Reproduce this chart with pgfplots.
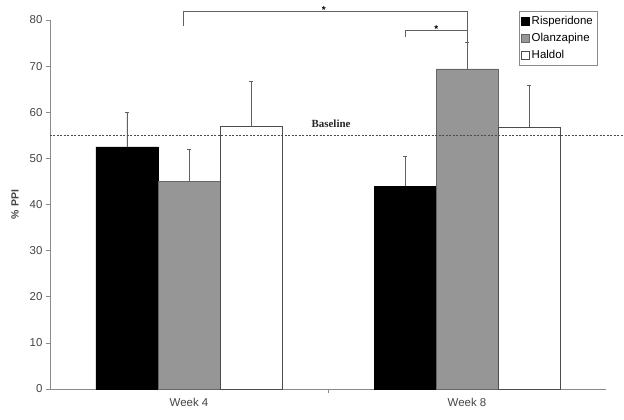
\documentclass[border=0pt]{standalone}
\usepackage{fontspec}
\setmainfont{Liberation Sans}
\newfontfamily\serifbold{Liberation Serif}
\usepackage{pgfplots}
\pgfplotsset{compat=1.18}
\definecolor{olz}{HTML}{969696}
\definecolor{axgray}{HTML}{8A8A8A}
\definecolor{txt}{HTML}{444444}

\begin{document}
\begin{tikzpicture}
\begin{axis}[
    scale only axis,
    width=556bp, height=369bp,
    xmin=-0.5, xmax=1.5,
    ymin=0, ymax=80,
    clip=false,
    axis x line=bottom, axis y line=left,
    axis line style={-, axgray, line width=0.6pt},
    xtick={0,1}, xticklabels={Week 4, Week 8},
    xtick style={draw=none},
    ytick={0,10,...,80},
    ytick style={axgray, line width=0.6pt},
    tick align=outside, major tick length=4bp,
    ticklabel style={font=\fontsize{11.5}{12}\selectfont, text=txt},
    /pgf/number format/assume math mode=true,
    xticklabel style={yshift=-2bp},
    ylabel={\textbf{\% PPI}},
    ylabel style={font=\fontsize{10.5}{11}\selectfont, text=txt,
        at={(axis description cs:-0.063,0.5)}, anchor=center},
    ybar=0pt, bar width=62bp,
    legend style={at={(axis cs:1.187,82)}, anchor=north west,
        font=\fontsize{11.5}{13}\selectfont, draw=axgray, line width=0.5pt,
        inner xsep=2bp, inner ysep=3bp, row sep=3.5bp},
    legend cell align=left,
    legend image code/.code={\draw[#1, line width=0.5pt] (0bp,-4bp) rectangle (8bp,4bp);},
    error bars/y dir=plus, error bars/y explicit,
    error bars/error bar style={axgray!70!black, line width=0.7pt},
    error bars/error mark options={rotate=90, mark size=2bp, axgray!70!black, line width=0.7pt},
]
\addplot[fill=black, draw=black, bar shift=-62bp] coordinates {
    (0, 52.5) +- (0, 7.5)
    (1, 44.0) +- (0, 6.4)
};
\addlegendentry{Risperidone}
\addplot[fill=olz, draw=black!60, bar shift=0bp] coordinates {
    (0, 45.0) +- (0, 6.9)
    (1, 69.4) +- (0, 5.8)
};
\addlegendentry{Olanzapine}
\addplot[fill=white, draw=black!70, bar shift=62bp] coordinates {
    (0, 56.9) +- (0, 9.9)
    (1, 56.7) +- (0, 9.1)
};
\addlegendentry{Haldol}

% baseline
\draw[dash pattern=on 2bp off 1.5bp, black!70, line width=0.6pt]
    (axis cs:-0.5,55) -- (axis cs:1.56,55);
\node[font=\fontsize{11}{11}\serifbold\bfseries, text=black!85] at (axis cs:0.511,57.4) {Baseline};

% significance brackets
\draw[axgray!70!black, line width=0.6pt]
    (axis cs:-0.02,78.8) -- (axis cs:-0.02,81.8) -- (axis cs:1,81.8) -- (axis cs:1,75);
\draw[axgray!70!black, line width=0.6pt]
    (axis cs:0.777,76.4) -- (axis cs:0.777,77.7) -- (axis cs:1,77.7);
\node[font=\fontsize{10}{10}\selectfont\bfseries, inner sep=0pt] at (axis cs:0.485,82.2) {*};
\node[font=\fontsize{10}{10}\selectfont\bfseries, inner sep=0pt] at (axis cs:0.89,78.1) {*};

% middle category tick
\draw[axgray, line width=0.6pt] (axis cs:0.5,0) -- ++(0bp,-4bp);

% page extent
\path (rel axis cs:0,0) -- ++(-50bp,-31bp);
\path (rel axis cs:1,1) -- ++(18bp,20bp);
\end{axis}
\end{tikzpicture}
\end{document}
